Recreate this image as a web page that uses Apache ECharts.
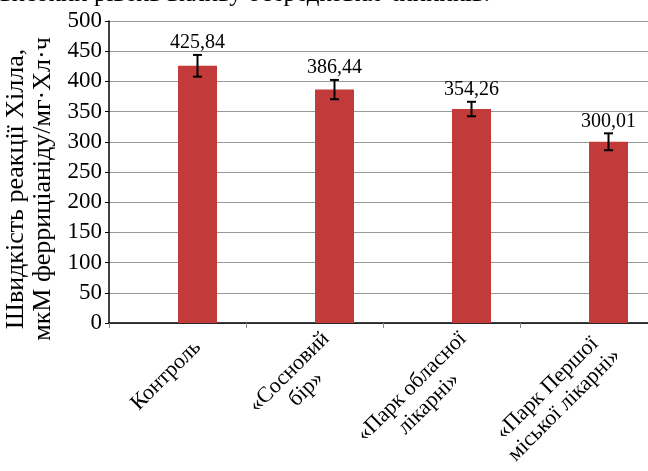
<!DOCTYPE html>
<html>
<head>
<meta charset="utf-8">
<script src="https://cdn.jsdelivr.net/npm/echarts@6/dist/echarts.min.js"></script>
<style>
html, body { margin: 0; padding: 0; background: #fff; }
#chart { width: 648px; height: 471px; }
</style>
</head>
<body>
<div id="chart"></div>
<script>
var categories = ['Контроль', '«Сосновий\nбір»', '«Парк обласної\nлікарні»', '«Парк Першої\nміської лікарні»'];
var values = [425.84, 386.44, 354.26, 300.01];
var errors = [18, 16, 12, 14];

var serif = '"Liberation Serif", "Times New Roman", serif';
var barShift = 20; // бари зсунуті вправо відносно центру категорії
var labelFont = '22px ' + serif;

var measure = document.createElement('canvas').getContext('2d');
measure.font = labelFont;

var chart = echarts.init(document.getElementById('chart'));

function renderErr(params, api) {
    var i = api.value(0), v = api.value(1), e = api.value(2);
    var top = api.coord([i, v + e]);
    var bot = api.coord([i, v - e]);
    var base = api.coord([i, 0]);
    var cx = top[0] + barShift;
    var cap = 4.5;
    var lineStyle = { stroke: '#000', lineWidth: 2 };
    var children = [
        { type: 'line', shape: { x1: cx, y1: top[1], x2: cx, y2: bot[1] }, style: lineStyle },
        { type: 'line', shape: { x1: cx - cap, y1: top[1], x2: cx + cap, y2: top[1] }, style: lineStyle },
        { type: 'line', shape: { x1: cx - cap, y1: bot[1], x2: cx + cap, y2: bot[1] }, style: lineStyle },
        {
            type: 'text', x: cx, y: top[1] - 2,
            style: { text: v.toFixed(2).replace('.', ','), font: '20px ' + serif, fill: '#000', align: 'center', verticalAlign: 'bottom' }
        }
    ];
    // підписи категорій під кутом 45°
    var lines = categories[i].split('\n');
    var wmax = 0;
    lines.forEach(function (s) { wmax = Math.max(wmax, measure.measureText(s).width); });
    var ax = base[0] + barShift, ay = base[1] + 21;
    var c = Math.SQRT1_2, lh = 24;
    lines.forEach(function (s, k) {
        var off = (k - (lines.length - 1) / 2) * lh;
        children.push({
            type: 'text',
            x: ax - wmax / 2 * c + off * c,
            y: ay + wmax / 2 * c + off * c,
            rotation: Math.PI / 4,
            style: { text: s, font: labelFont, fill: '#000', align: 'center', verticalAlign: 'middle' }
        });
    });
    return { type: 'group', children: children };
}

var option = {
    animation: false,
    graphic: [{
        type: 'text', left: 0, top: -18,
        style: { text: 'високий рівень впливу осередкових чинників.', font: '25px ' + serif, fill: '#000' }
    }],
    grid: { left: 109, right: -9, top: 21, bottom: 148, containLabel: false, outerBoundsMode: 'none' },
    xAxis: {
        type: 'category',
        data: categories,
        axisLine: { lineStyle: { color: '#000', width: 1.5 } },
        axisTick: { show: true, length: 5, lineStyle: { color: '#888' } },
        axisLabel: { show: false }
    },
    yAxis: {
        type: 'value',
        min: 0,
        max: 500,
        interval: 50,
        name: 'Швидкість реакції Хілла,\nмкМ ферриціаніду/мг·Хл·ч',
        nameLocation: 'middle',
        nameGap: 50,
        nameTextStyle: { fontFamily: serif, fontSize: 26, color: '#000', lineHeight: 27, padding: [0, 34, 0, 0] },
        axisLine: { show: true, lineStyle: { color: '#000', width: 1.5 } },
        axisTick: { show: true, length: 4, lineStyle: { color: '#000' } },
        axisLabel: { fontFamily: serif, fontSize: 23, color: '#000', margin: 7 },
        splitLine: { lineStyle: { color: '#999', width: 1 } }
    },
    series: [{
        type: 'bar',
        data: values.map(function () { return '-'; }),
        barWidth: 20,
        barGap: '100%',
        itemStyle: { color: 'transparent' },
        silent: true
    }, {
        type: 'bar',
        data: values,
        barWidth: 39,
        barGap: '100%',
        itemStyle: { color: '#c33a3a' }
    }, {
        type: 'custom',
        data: values.map(function (v, i) { return [i, v, errors[i]]; }),
        renderItem: renderErr,
        z: 5
    }]
};

chart.setOption(option);
</script>
</body>
</html>
